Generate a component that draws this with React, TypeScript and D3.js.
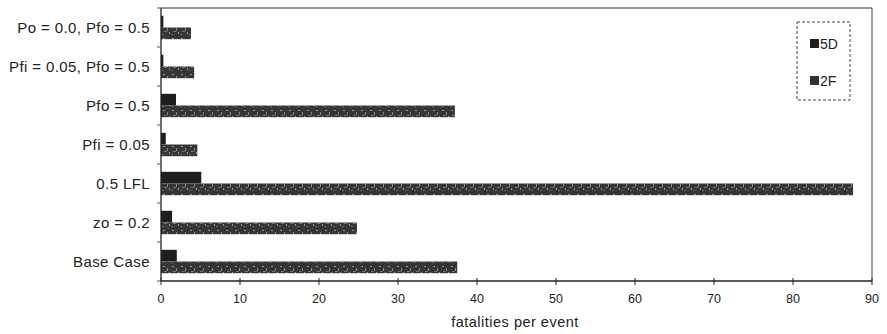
import React from "react";
import * as d3 from "d3";

const categories = [
  "Po = 0.0, Pfo = 0.5",
  "Pfi = 0.05, Pfo = 0.5",
  "Pfo = 0.5",
  "Pfi = 0.05",
  "0.5 LFL",
  "zo = 0.2",
  "Base Case",
];
const series = ["5D", "2F"];
const values5D = [0.3, 0.3, 1.9, 0.6, 5.1, 1.4, 2.0];
const values2F = [3.8, 4.2, 37.2, 4.6, 87.6, 24.8, 37.5];
const xTicks = [0, 10, 20, 30, 40, 50, 60, 70, 80, 90];

const W = 887;
const H = 334;
const left = 161;
const right = 872;
const top = 8;
const bottom = 281;
const font = "Liberation Sans, Arial, sans-serif";

export default function App() {
  const x = d3.scaleLinear().domain([0, 90]).range([left, right]);
  const y = d3
    .scaleBand<string>()
    .domain(categories)
    .range([top, bottom])
    .paddingInner(0.4)
    .paddingOuter(0.2);
  const sub = d3.scaleBand<string>().domain(series).range([0, y.bandwidth()]);
  const seriesValues: Record<string, number[]> = { "5D": values5D, "2F": values2F };
  const fills: Record<string, string> = { "5D": "#1e1e1e", "2F": "url(#tex)" };
  const step = y.step();

  return (
    <svg
      width={W}
      height={H}
      style={{ position: "absolute", left: 0, top: 0, background: "#fff" }}
      fontFamily={font}
    >
      <defs>
        <pattern id="tex" width="9" height="12" patternUnits="userSpaceOnUse">
          <rect width="9" height="12" fill="#363636" />
          <rect x="1" y="2" width="2" height="1" fill="#999" />
          <rect x="5" y="4" width="1" height="3" fill="#888" />
          <rect x="2" y="7" width="3" height="1" fill="#777" />
          <rect x="7" y="8" width="1" height="2" fill="#999" />
          <rect x="0" y="10" width="2" height="1" fill="#666" />
        </pattern>
      </defs>
      {/* frame */}
      <line x1={left} x2={right} y1={top} y2={top} stroke="#333" strokeWidth={1.2} />
      <line x1={right} x2={right} y1={top} y2={bottom} stroke="#444" strokeWidth={1} />
      {/* bars */}
      {categories.map((c, i) => (
        <g key={c}>
          {series.map((s) => (
            <rect
              key={s}
              x={x(0)}
              y={(y(c) as number) + (sub(s) as number)}
              width={Math.max(x(seriesValues[s][i]) - x(0), 1.5)}
              height={sub.bandwidth()}
              fill={fills[s]}
            />
          ))}
        </g>
      ))}
      {/* y axis */}
      <line x1={left} x2={left} y1={top} y2={bottom} stroke="#222" strokeWidth={1.3} />
      {d3.range(categories.length + 1).map((i) => (
        <line
          key={i}
          x1={left - 4}
          x2={left}
          y1={top + i * step}
          y2={top + i * step}
          stroke="#555"
        />
      ))}
      {categories.map((c) => (
        <text
          key={c}
          x={left - 11}
          y={(y(c) as number) + y.bandwidth() / 2}
          textAnchor="end"
          dominantBaseline="central"
          fontSize={15}
          letterSpacing={0.4}
          fill="#222"
        >
          {c}
        </text>
      ))}
      {/* x axis */}
      <line x1={left} x2={right} y1={bottom} y2={bottom} stroke="#222" strokeWidth={1.3} />
      {xTicks.map((t) => (
        <g key={t}>
          <line x1={x(t)} x2={x(t)} y1={bottom - 3} y2={bottom + 4} stroke="#222" />
          <text x={x(t)} y={bottom + 22} textAnchor="middle" fontSize={12.5} fill="#222">
            {t}
          </text>
        </g>
      ))}
      <text
        x={515}
        y={bottom + 46}
        textAnchor="middle"
        fontSize={14.5}
        letterSpacing={0.5}
        fill="#222"
      >
        fatalities per event
      </text>
      {/* legend */}
      <rect
        x={797}
        y={22}
        width={53}
        height={78}
        fill="#fff"
        stroke="#444"
        strokeDasharray="3,2"
      />
      {series.map((s, i) => (
        <g key={s}>
          <rect x={810} y={39 + i * 37} width={9} height={9} fill={s === "5D" ? "#1e1e1e" : "#333"} />
          <text x={820} y={44 + i * 37} dominantBaseline="central" fontSize={14} fill="#222">
            {s}
          </text>
        </g>
      ))}
    </svg>
  );
}
